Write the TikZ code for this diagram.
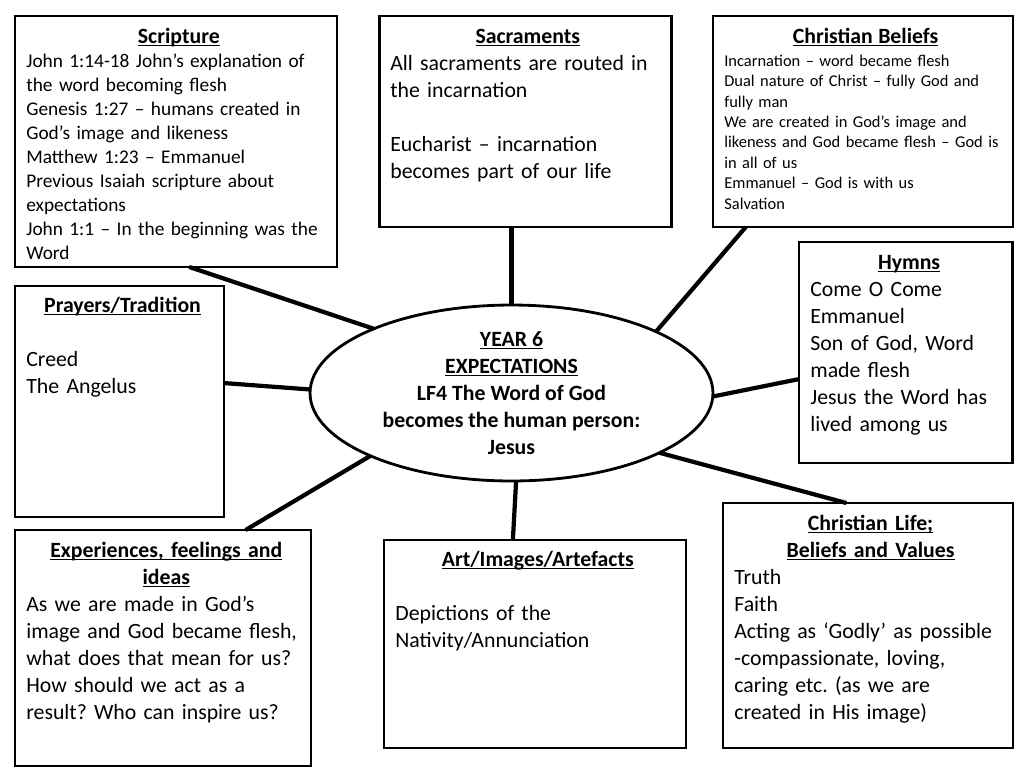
\documentclass[tikz,border=0pt]{standalone}
\usepackage{fontspec}
\setmainfont{Carlito}
\usetikzlibrary{shapes.geometric}
\frenchspacing

% text sizes
\newcommand\bigtxt{\fontsize{12.4}{15.37}\selectfont}
\newcommand\midtxt{\fontsize{11.0}{13.66}\selectfont}
\newcommand\smalltxt{\fontsize{9.35}{11.6}\selectfont}
\newcommand\uln[1]{\setbox0=\hbox{#1}\leavevmode\rlap{\rule[-1.7pt]{\wd0}{0.7pt}}\box0}
\newcommand\boxhead[1]{{\centering\bigtxt\bfseries\strut#1\par}}

\tikzset{
  panel/.style={draw, rectangle, line width=1.6pt, inner sep=0pt, outer sep=0pt, anchor=north west},
  paneltext/.style={anchor=north west, inner sep=0pt, text width=#1},
  spoke/.style={line width=2.4pt},
}

\begin{document}
\begin{tikzpicture}[x=0.02cm, y=-0.02cm]
\useasboundingbox (0,0) rectangle (1024,768);

% Centre
\node[draw, ellipse, line width=1.6pt, minimum width=8.06cm, minimum height=3.52cm, inner sep=0pt, outer sep=0pt] (hub) at (511.5,393) {};
\node[align=center, font=\bigtxt\bfseries, inner sep=0pt] (hubtxt) at (hub.center)
  {\uln{YEAR 6}\\ \uln{EXPECTATIONS}\\ LF4 The Word of God\\ becomes the human person:\\ Jesus};

% Panels
\node[panel, minimum width=6.44cm, minimum height=5.02cm] (scripture) at (15,16) {};
\node[paneltext=6.1cm, font=\midtxt] (scripturetxt) at ([shift={(0.22cm,-0.16cm)}]scripture.north west)
  {\boxhead{\uln{Scripture}}\raggedright
   John 1:14-18 John’s explanation of\par the word becoming flesh\par
   Genesis 1:27 – humans created in\par God’s image and likeness\par
   Matthew 1:23 – Emmanuel\par Previous Isaiah scripture about\par expectations\par
   John 1:1 – In the beginning was the\par Word\par};

\node[panel, minimum width=5.84cm, minimum height=4.22cm] (sacraments) at (379.5,16) {};
\node[paneltext=5.5cm, font=\bigtxt] (sacramentstxt) at ([shift={(0.21cm,-0.16cm)}]sacraments.north west)
  {\boxhead{\uln{Sacraments}}\raggedright
   All sacraments are routed in\par the incarnation\par\strut\par
   Eucharist – incarnation\par becomes part of our life\par};

\node[panel, minimum width=6.00cm, minimum height=4.22cm] (beliefs) at (713,16) {};
\node[paneltext=5.65cm, font=\smalltxt] (beliefstxt) at ([shift={(0.22cm,-0.16cm)}]beliefs.north west)
  {\boxhead{\uln{Christian Beliefs}}\vspace{1.6pt}\raggedright
   Incarnation – word became flesh\par
   Dual nature of Christ – fully God and\par fully man\par
   We are created in God’s image and\par likeness and God became flesh – God is\par in all of us\par
   Emmanuel – God is with us\par Salvation\par};

\node[panel, minimum width=4.27cm, minimum height=4.42cm] (hymns) at (799,242) {};
\node[paneltext=3.95cm, font=\bigtxt] (hymnstxt) at ([shift={(0.22cm,-0.16cm)}]hymns.north west)
  {\boxhead{\uln{Hymns}}\raggedright
   Come O Come\par Emmanuel\par Son of God, Word\par made flesh\par
   Jesus the Word has\par lived among us\par};

\node[panel, minimum width=4.18cm, minimum height=4.62cm] (prayers) at (15,286) {};
\node[paneltext=3.85cm, font=\bigtxt] (prayerstxt) at ([shift={(0.22cm,-0.14cm)}]prayers.north west)
  {\boxhead{\uln{Prayers/Tradition}}\raggedright
   \strut\par Creed\par The Angelus\par};

\node[panel, minimum width=5.92cm, minimum height=4.72cm] (experiences) at (15,530) {};
\node[paneltext=5.6cm, font=\bigtxt] (experiencestxt) at ([shift={(0.22cm,-0.16cm)}]experiences.north west)
  {\boxhead{\uln{Experiences, feelings and}\par \uln{ideas}}\raggedright
   As we are made in God’s\par image and God became flesh,\par
   what does that mean for us?\par How should we act as a\par
   result? Who can inspire us?\par};

\node[panel, minimum width=6.04cm, minimum height=4.16cm] (art) at (384,540) {};
\node[paneltext=5.7cm, font=\bigtxt] (arttxt) at ([shift={(0.22cm,-0.14cm)}]art.north west)
  {\boxhead{\uln{Art/Images/Artefacts}}\raggedright
   \strut\par Depictions of the\par Nativity/Annunciation\par};

\node[panel, minimum width=5.80cm, minimum height=4.90cm] (life) at (723,503) {};
\node[paneltext=5.45cm, font=\bigtxt] (lifetxt) at ([shift={(0.22cm,-0.16cm)}]life.north west)
  {\boxhead{\uln{Christian Life;}\par \uln{Beliefs and Values}}\raggedright
   Truth\par Faith\par Acting as ‘Godly’ as possible\par -compassionate, loving,\par
   caring etc. (as we are\par created in His image)\par};

% Spokes
\draw[spoke] (scripture.-84) -- (hub.155);
\draw[spoke] (sacraments.south -| hub.north) -- (hub.north);
\draw[spoke] (beliefs.-138) -- (hub.23);
\draw[spoke] (hymns.-166) -- (hub.-1);
\draw[spoke] (prayers.10) -- (hub.179);
\draw[spoke] (experiences.55) -- (hub.-156);
\draw[spoke] (art.102) -- (hub.-87);
\draw[spoke] (life.100) -- (hub.-22);
\end{tikzpicture}
\end{document}
